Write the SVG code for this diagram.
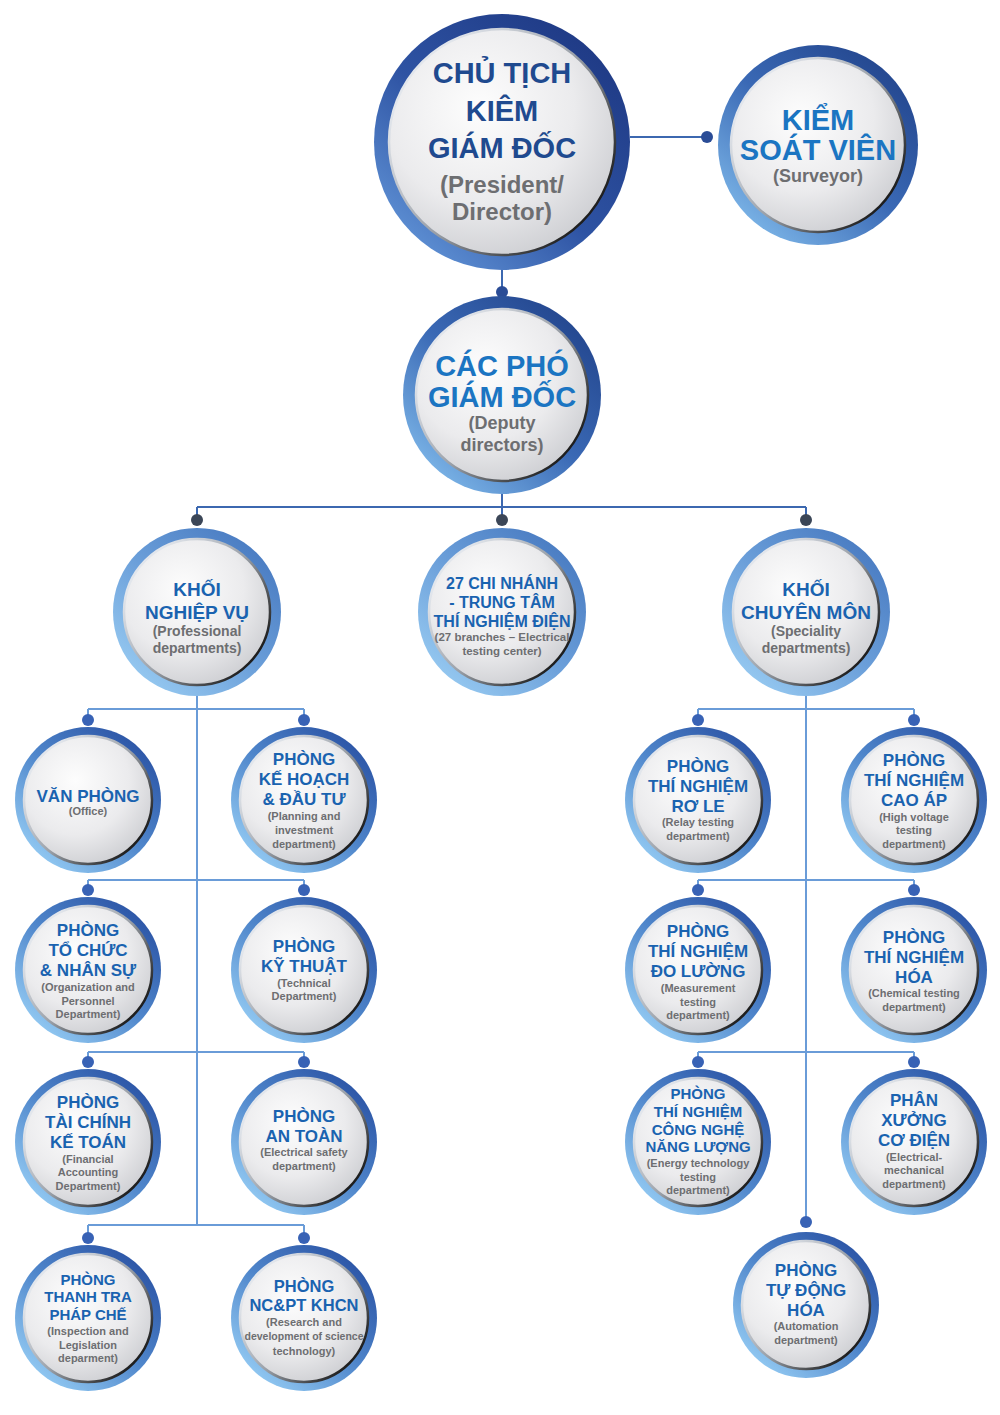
<svg xmlns="http://www.w3.org/2000/svg" width="1000" height="1415" viewBox="0 0 1000 1415">
<style>
text{font-family:"Liberation Sans",Arial,sans-serif;font-weight:bold;text-anchor:middle}
.t0{font-size:29px;fill:#1f4a8f}
.s0{font-size:24px;fill:#6d6e71}
.t1{font-size:29px;fill:#1b75c2}
.s1{font-size:18px;fill:#6d6e71}
.t2{font-size:19px;fill:#1a63b0}
.s2{font-size:14px;fill:#6d6e71}
.t3{font-size:17px;fill:#1a63b0}
.s3{font-size:11px;fill:#6d6e71}
.in{fill:url(#inner);stroke:url(#edge);stroke-width:2.5}
.ln{fill:none;stroke:#3c68b0;stroke-width:2}
.lc{fill:none;stroke:#6a9cd8;stroke-width:2}
.dn{fill:#2a4c96}
.dg{fill:#3b4657}
.ds{fill:#3862b5}
</style>
<defs>
<linearGradient id="gTop" x1="0.85" y1="0.1" x2="0.15" y2="0.9"><stop offset="0" stop-color="#1f3a85"/><stop offset="0.55" stop-color="#2e53a3"/><stop offset="1" stop-color="#5d8fd3"/></linearGradient>
<linearGradient id="gMid" x1="0.85" y1="0.1" x2="0.15" y2="0.9"><stop offset="0" stop-color="#24478f"/><stop offset="0.5" stop-color="#3a69b5"/><stop offset="1" stop-color="#7ab3e6"/></linearGradient>
<linearGradient id="gL2" x1="0.85" y1="0.1" x2="0.15" y2="0.9"><stop offset="0" stop-color="#4a7cc2"/><stop offset="0.5" stop-color="#6a9ed9"/><stop offset="1" stop-color="#95c8f0"/></linearGradient>
<linearGradient id="gSm" x1="0.85" y1="0.1" x2="0.15" y2="0.9"><stop offset="0" stop-color="#2c55a6"/><stop offset="0.5" stop-color="#4f86cb"/><stop offset="1" stop-color="#92c9f2"/></linearGradient>
<radialGradient id="inner" cx="0.4" cy="0.35" r="0.7"><stop offset="0" stop-color="#fdfdfd"/><stop offset="0.6" stop-color="#ebebed"/><stop offset="1" stop-color="#cdced2"/></radialGradient>
<linearGradient id="edge" x1="0.15" y1="0.2" x2="0.9" y2="0.8"><stop offset="0" stop-color="#e2e6ec"/><stop offset="0.5" stop-color="#9aa0a8"/><stop offset="1" stop-color="#1e1e1e"/></linearGradient>
</defs>

<g id="connectors">
<path class="ln" d="M630 137H707M502 270V292M502 494V507M197 507H806M197 507V520M502 507V520M806 507V520"/>
<circle class="dn" cx="707" cy="137" r="6"/>
<circle class="dn" cx="502" cy="292" r="6"/>
<circle class="dg" cx="197" cy="520" r="6"/>
<circle class="dg" cx="502" cy="520" r="6"/>
<circle class="dg" cx="806" cy="520" r="6"/>
<path class="lc" d="M197 696V1225M88 709H304M88 709V720M304 709V720M88 880H304M88 880V890M304 880V890M88 1052H304M88 1052V1062M304 1052V1062M88 1225H304M88 1225V1238M304 1225V1238"/>
<path class="lc" d="M806 696V1222M698 709H914M698 709V720M914 709V720M698 880H914M698 880V890M914 880V890M698 1052H914M698 1052V1062M914 1052V1062"/>
<g class="ds">
<circle cx="88" cy="720" r="6"/><circle cx="304" cy="720" r="6"/>
<circle cx="88" cy="890" r="6"/><circle cx="304" cy="890" r="6"/>
<circle cx="88" cy="1062" r="6"/><circle cx="304" cy="1062" r="6"/>
<circle cx="88" cy="1238" r="6"/><circle cx="304" cy="1238" r="6"/>
<circle cx="698" cy="720" r="6"/><circle cx="914" cy="720" r="6"/>
<circle cx="698" cy="890" r="6"/><circle cx="914" cy="890" r="6"/>
<circle cx="698" cy="1062" r="6"/><circle cx="914" cy="1062" r="6"/>
<circle cx="806" cy="1222" r="6"/>
</g>
</g>

<g id="president" transform="translate(502,142)">
<circle r="128" fill="url(#gTop)"/><circle class="in" r="113"/>
<text class="t0" y="-59">CHỦ TỊCH</text>
<text class="t0" y="-21">KIÊM</text>
<text class="t0" y="16">GIÁM ĐỐC</text>
<text class="s0" y="51">(President/</text>
<text class="s0" y="78">Director)</text>
</g>

<g id="surveyor" transform="translate(818,145)">
<circle r="100" fill="url(#gMid)"/><circle class="in" r="87"/>
<text class="t1" y="-15">KIỂM</text>
<text class="t1" y="15">SOÁT VIÊN</text>
<text class="s1" y="37">(Surveyor)</text>
</g>

<g id="deputy" transform="translate(502,395)">
<circle r="99" fill="url(#gMid)"/><circle class="in" r="86"/>
<text class="t1" y="-19">CÁC PHÓ</text>
<text class="t1" y="12">GIÁM ĐỐC</text>
<text class="s1" y="34">(Deputy</text>
<text class="s1" y="56">directors)</text>
</g>

<g id="professional" transform="translate(197,612)">
<circle r="84" fill="url(#gL2)"/><circle class="in" r="73"/>
<text class="t2" y="-16">KHỐI</text>
<text class="t2" y="7">NGHIỆP VỤ</text>
<text class="s2" y="24">(Professional</text>
<text class="s2" y="41">departments)</text>
</g>

<g id="branches" transform="translate(502,612)">
<circle r="84" fill="url(#gL2)"/><circle class="in" r="73"/>
<text class="t2" style="font-size:16px" y="-23">27 CHI NHÁNH</text>
<text class="t2" style="font-size:16px" y="-4">- TRUNG TÂM</text>
<text class="t2" style="font-size:16px" y="15">THÍ NGHIỆM ĐIỆN</text>
<text class="s3" style="font-size:11.5px" y="29">(27 branches – Electrical</text>
<text class="s3" style="font-size:11.5px" y="43">testing center)</text>
</g>

<g id="speciality" transform="translate(806,612)">
<circle r="84" fill="url(#gL2)"/><circle class="in" r="73"/>
<text class="t2" y="-16">KHỐI</text>
<text class="t2" y="7">CHUYÊN MÔN</text>
<text class="s2" y="24">(Speciality</text>
<text class="s2" y="41">departments)</text>
</g>

<g id="office" transform="translate(88,800)">
<circle r="73" fill="url(#gSm)"/><circle class="in" r="64"/>
<text class="t3" y="2">VĂN PHÒNG</text>
<text class="s3" y="15">(Office)</text>
</g>

<g id="planning" transform="translate(304,800)">
<circle r="73" fill="url(#gSm)"/><circle class="in" r="64"/>
<text class="t3" y="-35">PHÒNG</text>
<text class="t3" y="-15">KẾ HOẠCH</text>
<text class="t3" y="5">&amp; ĐẦU TƯ</text>
<text class="s3" y="20">(Planning and</text>
<text class="s3" y="34">investment</text>
<text class="s3" y="48">department)</text>
</g>

<g id="personnel" transform="translate(88,970)">
<circle r="73" fill="url(#gSm)"/><circle class="in" r="64"/>
<text class="t3" y="-34">PHÒNG</text>
<text class="t3" y="-14">TỔ CHỨC</text>
<text class="t3" y="6">&amp; NHÂN SỰ</text>
<text class="s3" y="21">(Organization and</text>
<text class="s3" y="35">Personnel</text>
<text class="s3" y="48">Department)</text>
</g>

<g id="technical" transform="translate(304,970)">
<circle r="73" fill="url(#gSm)"/><circle class="in" r="64"/>
<text class="t3" y="-18">PHÒNG</text>
<text class="t3" y="2">KỸ THUẬT</text>
<text class="s3" y="17">(Technical</text>
<text class="s3" y="30">Department)</text>
</g>

<g id="finance" transform="translate(88,1142)">
<circle r="73" fill="url(#gSm)"/><circle class="in" r="64"/>
<text class="t3" y="-34">PHÒNG</text>
<text class="t3" y="-14">TÀI CHÍNH</text>
<text class="t3" y="6">KẾ TOÁN</text>
<text class="s3" y="21">(Financial</text>
<text class="s3" y="34">Accounting</text>
<text class="s3" y="48">Department)</text>
</g>

<g id="safety" transform="translate(304,1142)">
<circle r="73" fill="url(#gSm)"/><circle class="in" r="64"/>
<text class="t3" y="-20">PHÒNG</text>
<text class="t3" y="0">AN TOÀN</text>
<text class="s3" y="14">(Electrical safety</text>
<text class="s3" y="28">department)</text>
</g>

<g id="inspection" transform="translate(88,1318)">
<circle r="73" fill="url(#gSm)"/><circle class="in" r="64"/>
<text class="t3" style="font-size:15px" y="-33">PHÒNG</text>
<text class="t3" style="font-size:15px" y="-16">THANH TRA</text>
<text class="t3" style="font-size:15px" y="2">PHÁP CHẾ</text>
<text class="s3" y="17">(Inspection and</text>
<text class="s3" y="31">Legislation</text>
<text class="s3" y="44">deparment)</text>
</g>

<g id="research" transform="translate(304,1318)">
<circle r="73" fill="url(#gSm)"/><circle class="in" r="64"/>
<text class="t3" style="font-size:16.5px" y="-26">PHÒNG</text>
<text class="t3" style="font-size:16.5px" y="-7">NC&amp;PT KHCN</text>
<text class="s3" y="8">(Research and</text>
<text class="s3" y="22" textLength="119" lengthAdjust="spacingAndGlyphs">development of science</text>
<text class="s3" y="37">technology)</text>
</g>

<g id="relay" transform="translate(698,800)">
<circle r="73" fill="url(#gSm)"/><circle class="in" r="64"/>
<text class="t3" y="-28">PHÒNG</text>
<text class="t3" y="-8">THÍ NGHIỆM</text>
<text class="t3" y="12">RƠ LE</text>
<text class="s3" y="26">(Relay testing</text>
<text class="s3" y="40">department)</text>
</g>

<g id="highvoltage" transform="translate(914,800)">
<circle r="73" fill="url(#gSm)"/><circle class="in" r="64"/>
<text class="t3" y="-34">PHÒNG</text>
<text class="t3" y="-14">THÍ NGHIỆM</text>
<text class="t3" y="6">CAO ÁP</text>
<text class="s3" y="21">(High voltage</text>
<text class="s3" y="34">testing</text>
<text class="s3" y="48">department)</text>
</g>

<g id="measurement" transform="translate(698,970)">
<circle r="73" fill="url(#gSm)"/><circle class="in" r="64"/>
<text class="t3" y="-33">PHÒNG</text>
<text class="t3" y="-13">THÍ NGHIỆM</text>
<text class="t3" y="7">ĐO LƯỜNG</text>
<text class="s3" y="22">(Measurement</text>
<text class="s3" y="36">testing</text>
<text class="s3" y="49">department)</text>
</g>

<g id="chemical" transform="translate(914,970)">
<circle r="73" fill="url(#gSm)"/><circle class="in" r="64"/>
<text class="t3" y="-27">PHÒNG</text>
<text class="t3" y="-7">THÍ NGHIỆM</text>
<text class="t3" y="13">HÓA</text>
<text class="s3" y="27">(Chemical testing</text>
<text class="s3" y="41">department)</text>
</g>

<g id="energy" transform="translate(698,1142)">
<circle r="73" fill="url(#gSm)"/><circle class="in" r="64"/>
<text class="t3" style="font-size:15px" y="-43">PHÒNG</text>
<text class="t3" style="font-size:15px" y="-25">THÍ NGHIỆM</text>
<text class="t3" style="font-size:15px" y="-7">CÔNG NGHỆ</text>
<text class="t3" style="font-size:15px" y="10">NĂNG LƯỢNG</text>
<text class="s3" y="25">(Energy technology</text>
<text class="s3" y="39">testing</text>
<text class="s3" y="52">department)</text>
</g>

<g id="mechanical" transform="translate(914,1142)">
<circle r="73" fill="url(#gSm)"/><circle class="in" r="64"/>
<text class="t3" y="-36">PHÂN</text>
<text class="t3" y="-16">XƯỞNG</text>
<text class="t3" y="4">CƠ ĐIỆN</text>
<text class="s3" y="19">(Electrical-</text>
<text class="s3" y="32">mechanical</text>
<text class="s3" y="46">department)</text>
</g>

<g id="automation" transform="translate(806,1305)">
<circle r="73" fill="url(#gSm)"/><circle class="in" r="64"/>
<text class="t3" y="-29">PHÒNG</text>
<text class="t3" y="-9">TỰ ĐỘNG</text>
<text class="t3" y="11">HÓA</text>
<text class="s3" y="25">(Automation</text>
<text class="s3" y="39">department)</text>
</g>
</svg>
